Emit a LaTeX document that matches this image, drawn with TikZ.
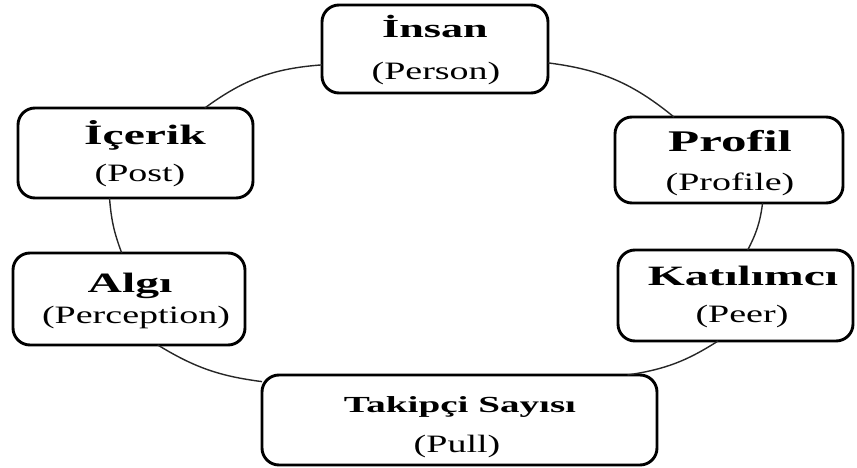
\documentclass[tikz,border=0pt]{standalone}
\usepackage{fontspec}
\setmainfont{Liberation Serif}
\newfontfamily\headfont[FakeStretch=1.7]{Liberation Serif}
\newfontfamily\subfont[FakeStretch=1.52]{Liberation Serif}
\begin{document}
\begin{tikzpicture}[x=1pt,y=-1pt,
  stage/.style={draw=black, line width=2.9pt, rounded corners=17pt, fill=white,
    inner sep=0pt, outer sep=0pt},
  ttl/.style={anchor=base, inner sep=0pt, font=\headfont\bfseries\fontsize{#1}{#1}\selectfont},
  ttl/.default=28,
  sub/.style={anchor=base, inner sep=0pt, font=\subfont\fontsize{25}{25}\selectfont},
  link/.style={draw=black!85, line width=1.4pt}]
\useasboundingbox (0,0) rectangle (857,468);

% stage boxes
\node[stage, minimum width=226pt, minimum height=88pt] (insan) at (435,49) {};
\node[stage, minimum width=235pt, minimum height=90pt] (icerik) at (135.5,153) {};
\node[stage, minimum width=232pt, minimum height=92pt] (algi) at (129,299) {};
\node[stage, minimum width=228pt, minimum height=86pt] (profil) at (729,160) {};
\node[stage, minimum width=235pt, minimum height=91pt] (katilimci) at (735.5,295.5) {};
\node[stage, minimum width=395pt, minimum height=90pt] (takipci) at (459.5,420) {};

% labels
\node[ttl=26] (insan-t) at (435,38) {İnsan};
\node[sub] (insan-s) at (436,80) {(Person)};
\node[ttl] (icerik-t) at (145,145) {İçerik};
\node[sub] (icerik-s) at (140,182) {(Post)};
\node[ttl] (algi-t) at (130,292) {Algı};
\node[sub] (algi-s) at (136,323) {(Perception)};
\node[ttl=30] (profil-t) at (730,152) {Profil};
\node[sub] (profil-s) at (730,190) {(Profile)};
\node[ttl] (katilimci-t) at (743,285) {Katılımcı};
\node[sub] (katilimci-s) at (742,322) {(Peer)};
\node[ttl=23] (takipci-t) at (460,412) {Takipçi Sayısı};
\node[sub] (takipci-s) at (457,452) {(Pull)};

% ring of connectors
\draw[link] (icerik.33) to[bend left=16] (insan.188);
\draw[link] (insan.-7) to[bend left=16] (profil.142);
\draw[link] (profil.-52) to[bend left=10] (katilimci.75);
\draw[link] (katilimci.249) to[bend left=12] (takipci.15);
\draw[link] (takipci.169) to[bend left=12] (algi.-58);
\draw[link] (algi.99) to[bend left=8] (icerik.240);
\end{tikzpicture}
\end{document}
